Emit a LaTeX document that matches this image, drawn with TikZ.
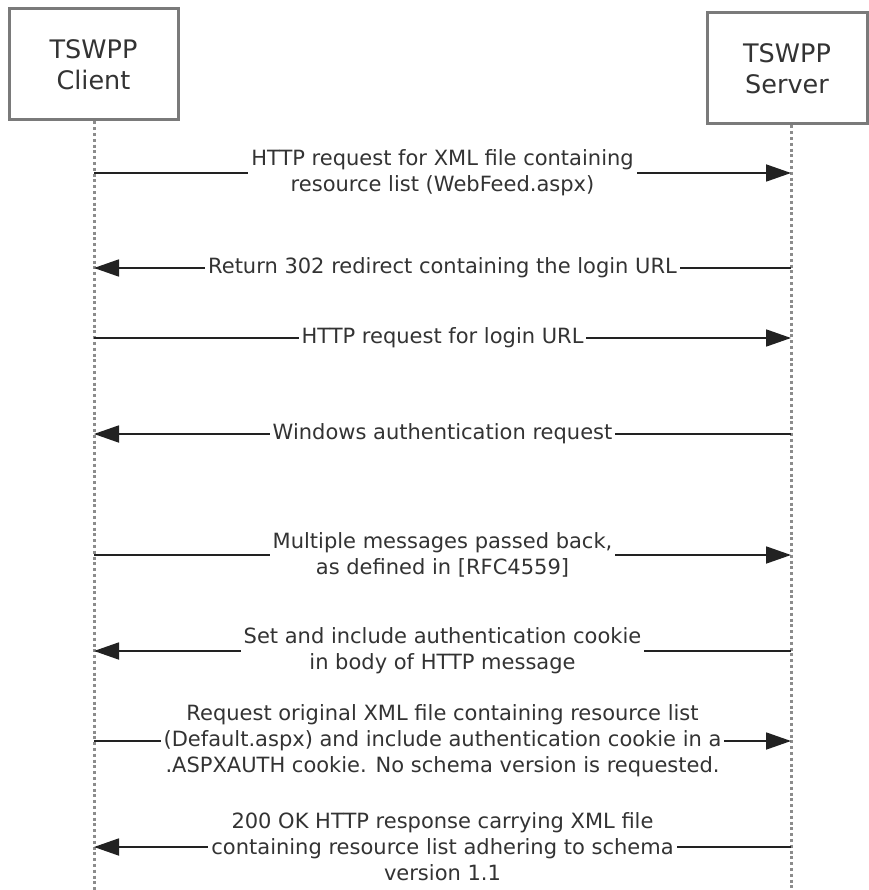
\documentclass[tikz,border=0pt]{standalone}
\usepackage{fontspec}
\setmainfont{DejaVu Sans}
\usetikzlibrary{arrows.meta}
\definecolor{boxgray}{HTML}{7A7A7A}
\definecolor{dotgray}{HTML}{8C8C8C}
\definecolor{txtgray}{HTML}{333333}
\definecolor{linegray}{HTML}{222222}
\tikzset{
    party/.style={draw=boxgray, line width=3pt, rectangle, align=center,
        text=txtgray, font=\fontsize{25.5}{31}\selectfont, inner sep=0pt},
    lifeline/.style={draw=dotgray, line width=3pt, dash pattern=on 3pt off 2.8pt},
    msg/.style={fill=white, align=center, inner sep=3pt, text=txtgray,
        font=\fontsize{21}{26}\selectfont},
    arr/.style={draw=linegray, line width=1.8pt, -{Triangle[length=25pt,width=17pt]}}
}

\begin{document}
\begin{tikzpicture}[x=1pt,y=-1pt]
  \useasboundingbox[fill=white] (0,0) rectangle (868,890);
  \node (client) [party, minimum width=169pt, minimum height=111pt] at (93.5, 64.5) {TSWPP\\Client};
  \node (server) [party, minimum width=160pt, minimum height=111pt] at (787, 68.5) {TSWPP\\Server};

  % lifelines
  \coordinate (cend) at (94, 890);
  \coordinate (send) at (791, 890);
  \draw[lifeline] (client.south -| cend) -- (cend);
  \draw[lifeline] (server.south -| send) -- (send);

  % message levels
  \foreach \i/\y in {1/173, 2/268, 3/338, 4/434, 5/555, 6/651, 7/741, 8/847} {
    \coordinate (c\i) at (94, \y);
    \coordinate (s\i) at (791, \y);
  }

  \draw[arr] (c1) -- node[msg] {HTTP request for XML file containing\\resource list (WebFeed.aspx)} (s1);
  \draw[arr] (s2) -- node[msg] {Return 302 redirect containing the login URL} (c2);
  \draw[arr] (c3) -- node[msg] {HTTP request for login URL} (s3);
  \draw[arr] (s4) -- node[msg] {Windows authentication request} (c4);
  \draw[arr] (c5) -- node[msg] {Multiple messages passed back,\\as defined in [RFC4559]} (s5);
  \draw[arr] (s6) -- node[msg] {Set and include authentication cookie\\in body of HTTP message} (c6);
  \draw[arr] (c7) -- node[msg] {Request original XML file containing resource list\\(Default.aspx) and include authentication cookie in a\\.ASPXAUTH cookie. No schema version is requested.} (s7);
  \draw[arr] (s8) -- node[msg] {200 OK HTTP response carrying XML file\\containing resource list adhering to schema\\version 1.1} (c8);
\end{tikzpicture}
\end{document}
